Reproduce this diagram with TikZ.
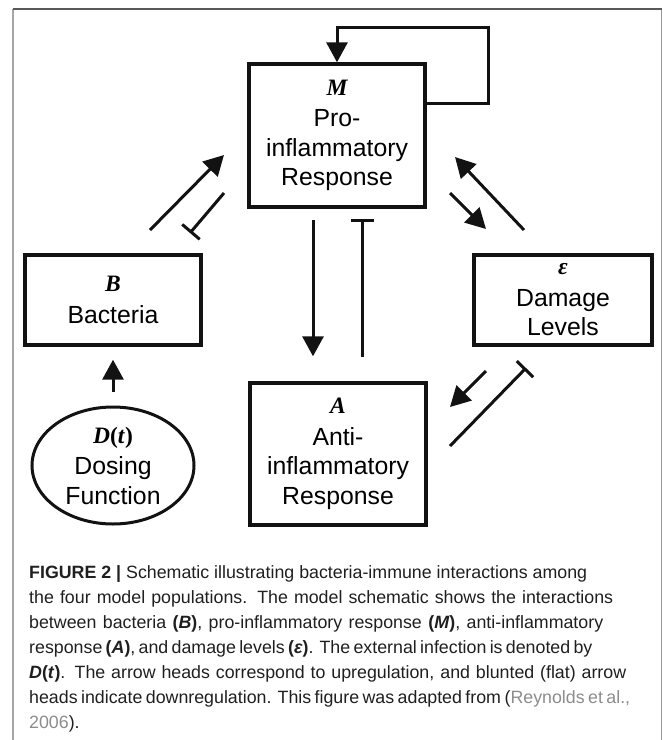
\documentclass[tikz,border=0pt]{standalone}
\usepackage{fontspec}
\setsansfont{Liberation Sans}
\newfontfamily\varfont{Liberation Serif}
\usetikzlibrary{arrows.meta, shapes.geometric}

\newcommand{\popvar}[1]{{\varfont\bfseries\fontsize{23.5}{20}\selectfont #1}}
\newcommand{\capline}[2]{\makebox[#1pt][s]{#2}}

\begin{document}
\begin{tikzpicture}[x=1pt, y=-1pt, font=\sffamily,
  box/.style={draw=black!93, line width=3.4pt, inner sep=0pt, align=center,
    font=\sffamily\fontsize{24.8}{29.5}\selectfont},
  arr/.style={draw=black!93, line width=3pt, -{Triangle[width=21pt,length=20pt]}},
  blunt/.style={draw=black!93, line width=3pt, -{Bar[width=23pt]}}]
\useasboundingbox (0,0) rectangle (663,740);
% frame
\draw[black!35, line width=1.3pt] (13,740) -- (13,9);
\draw[black!40, line width=1.3pt] (661.5,9) -- (661.5,740);
\draw[black!65, line width=1.3pt] (13,9) -- (661.5,9);

\node[box, minimum width=176pt, minimum height=143pt] (pro) at (337,135.5) {\popvar{\itshape M}\\[2pt] Pro-\\ inflammatory\\ Response};
\node[box, minimum width=176pt, minimum height=90pt] (bac) at (113,300) {\popvar{\itshape B}\\[2pt] Bacteria};
\node[box, minimum width=178pt, minimum height=90pt] (dam) at (563,300) {\popvar{\itshape ε}\\[2pt] Damage\\ Levels};
\node[box, minimum width=176pt, minimum height=142pt] (anti) at (338,454) {\popvar{\itshape A}\\[2pt] Anti-\\ inflammatory\\ Response};
\node[box, ellipse, line width=3pt, minimum width=162pt, minimum height=117pt] (dose) at (113,465.5) {\popvar{\textit{D}(\textit{t})}\\[2pt] Dosing\\ Function};

%\coordinate (loop) at (488,60);
\coordinate (loop) at (488,27);
\coordinate (bm1) at (150,230); \coordinate (bm2) at (224,155);
\coordinate (mb1) at (224,193); \coordinate (mb2) at (190,233);
\coordinate (me1) at (450,193); \coordinate (me2) at (486,229);
\coordinate (em1) at (524,230); \coordinate (em2) at (455,157);
\coordinate (ea1) at (486,371); \coordinate (ea2) at (450,407);
\coordinate (ae1) at (450,446); \coordinate (ae2) at (526,368);

\draw[arr] ([yshift=32.5pt]pro.east) -| (loop) -| (pro.north);
\draw[arr] ([yshift=14pt]dose.north) -- ([yshift=-13pt]bac.south);
\draw[arr] ([xshift=-24pt,yshift=-11pt]pro.south) -- ([xshift=-25pt,yshift=25pt]anti.north);
\draw[blunt] ([xshift=24pt,yshift=24pt]anti.north) -- ([xshift=25pt,yshift=-10pt]pro.south);
\draw[arr] (bm1) -- (bm2);
\draw[blunt] (mb1) -- (mb2);
\draw[arr] (me1) -- (me2);
\draw[arr] (em1) -- (em2);
\draw[arr] (ea1) -- (ea2);
\draw[blunt] (ae1) -- (ae2);

% caption, base = last line
\node[anchor=base west, align=left, inner sep=0pt, text=black!88,
  font=\sffamily\fontsize{17.8}{25}\selectfont] (cap) at (29,728)
  {\capline{558}{\textbf{FIGURE 2 |} Schematic illustrating bacteria-immune interactions among}\\
  \capline{584}{the four model populations. The model schematic shows the interactions}\\
  \capline{574}{between bacteria \textbf{(\textit{B})}, pro-inflammatory response \textbf{(\textit{M})}, anti-inflammatory}\\
  \capline{558}{response \textbf{(\textit{A})}, and damage levels \textbf{(\textit{ε})}. The external infection is denoted by}\\
  \capline{597}{\textbf{\textit{D}(\textit{t})}. The arrow heads correspond to upregulation, and blunted (flat) arrow}\\
  \capline{601}{heads indicate downregulation. This figure was adapted from ({\color{black!45}Reynolds et al.,}}\\
  {\color{black!45}2006}).};
\end{tikzpicture}
\end{document}
